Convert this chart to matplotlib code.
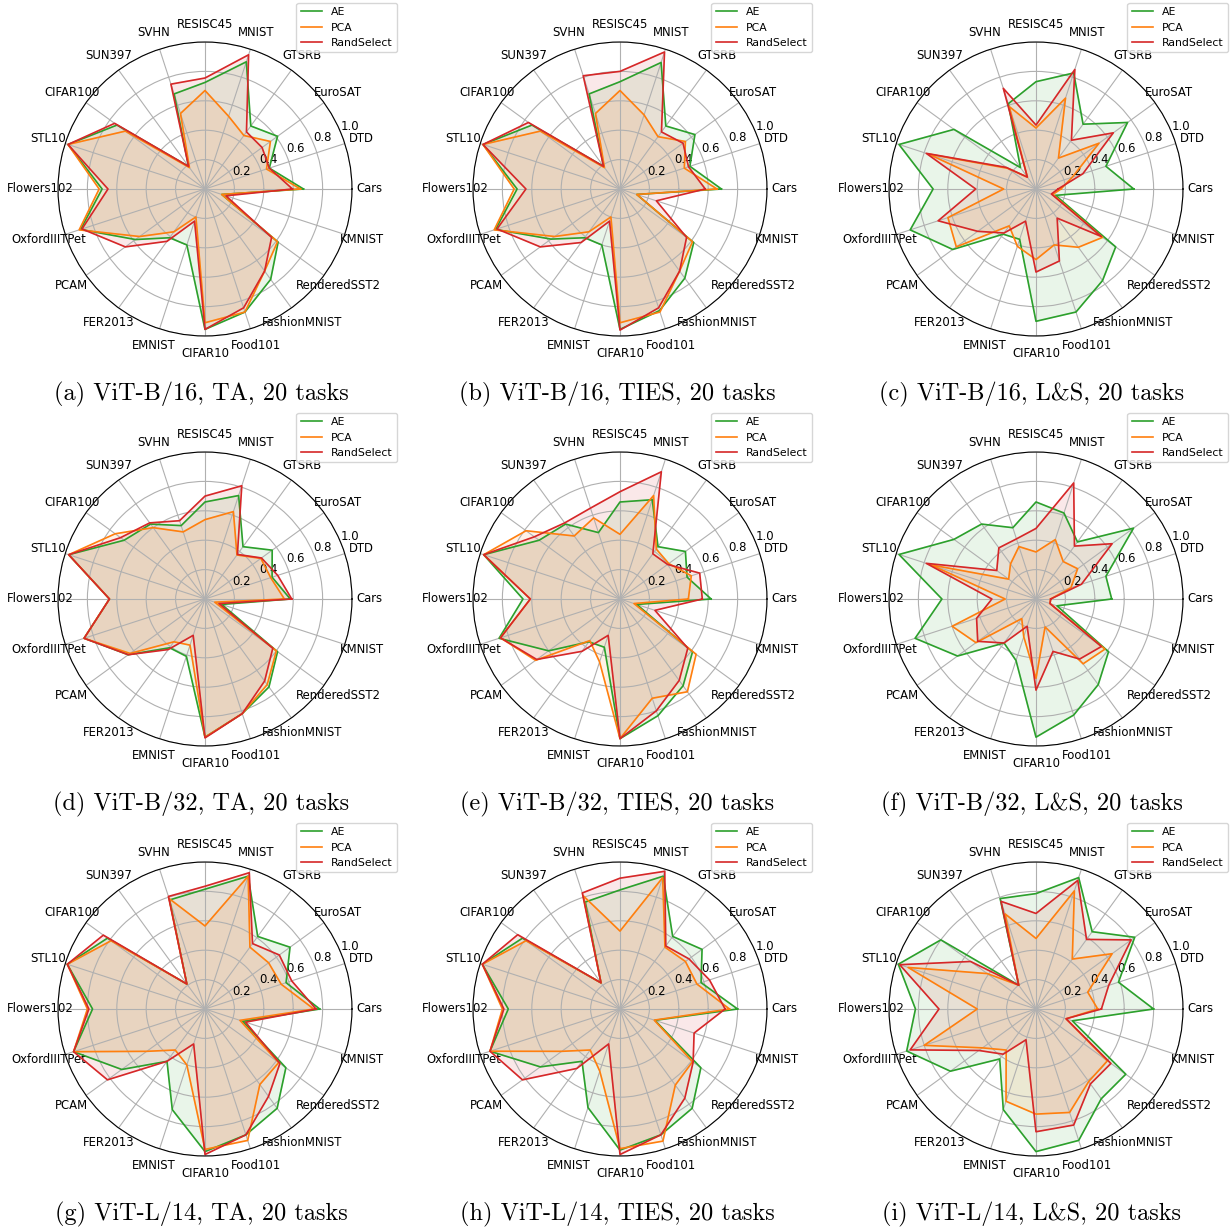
import numpy as np
import matplotlib
matplotlib.use("Agg")
import matplotlib.pyplot as plt

# Task order around each radar (counter-clockwise from the right)
tasks = ["Cars", "DTD", "EuroSAT", "GTSRB", "MNIST", "RESISC45", "SVHN", "SUN397",
         "CIFAR100", "STL10", "Flowers102", "OxfordIIITPet", "PCAM", "FER2013",
         "EMNIST", "CIFAR10", "Food101", "FashionMNIST", "RenderedSST2", "KMNIST"]

methods = ["AE", "PCA", "RandSelect"]
method_colors = ["#2ca02c", "#ff7f0e", "#d62728"]

r_ticks = [0.2, 0.4, 0.6, 0.8, 1.0]
r_tick_labels = ["0.2", "0.4", "0.6", "0.8", "1.0"]

# Normalized accuracy per task
# ViT-B/16
b16_ta_ae = [0.67, 0.46, 0.61, 0.53, 0.91, 0.725, 0.68, 0.19, 0.74, 0.98, 0.70, 0.89, 0.585, 0.41, 0.40, 0.955, 0.88, 0.76, 0.615, 0.12]
b16_ta_pca = [0.65, 0.44, 0.55, 0.45, 0.52, 0.67, 0.54, 0.18, 0.67, 0.98, 0.72, 0.90, 0.55, 0.36, 0.20, 0.91, 0.88, 0.69, 0.61, 0.12]
b16_ta_rand = [0.595, 0.46, 0.48, 0.48, 0.96, 0.755, 0.75, 0.19, 0.76, 0.98, 0.66, 0.88, 0.67, 0.44, 0.23, 0.955, 0.85, 0.69, 0.56, 0.15]

b16_ties_ae = [0.69, 0.50, 0.63, 0.53, 0.905, 0.73, 0.68, 0.19, 0.74, 0.98, 0.70, 0.89, 0.58, 0.41, 0.40, 0.955, 0.87, 0.75, 0.62, 0.12]
b16_ties_pca = [0.66, 0.46, 0.55, 0.44, 0.53, 0.67, 0.54, 0.18, 0.67, 0.98, 0.72, 0.90, 0.55, 0.36, 0.20, 0.91, 0.88, 0.69, 0.61, 0.12]
b16_ties_rand = [0.58, 0.49, 0.53, 0.48, 0.98, 0.80, 0.81, 0.19, 0.77, 0.98, 0.64, 0.88, 0.67, 0.45, 0.23, 0.96, 0.85, 0.69, 0.56, 0.26]

b16_ls_ae = [0.665, 0.50, 0.77, 0.545, 0.83, 0.73, 0.61, 0.18, 0.69, 0.98, 0.70, 0.90, 0.70, 0.38, 0.36, 0.90, 0.88, 0.77, 0.67, 0.14]
b16_ls_pca = [0.17, 0.26, 0.53, 0.26, 0.65, 0.415, 0.59, 0.10, 0.24, 0.77, 0.22, 0.63, 0.67, 0.31, 0.41, 0.48, 0.40, 0.49, 0.56, 0.12]
b16_ls_rand = [0.15, 0.335, 0.65, 0.41, 0.855, 0.435, 0.72, 0.10, 0.25, 0.785, 0.41, 0.70, 0.49, 0.37, 0.23, 0.565, 0.515, 0.245, 0.55, 0.11]

# ViT-B/32
b32_ta_ae = [0.58, 0.48, 0.565, 0.44, 0.74, 0.66, 0.525, 0.63, 0.68, 0.975, 0.65, 0.865, 0.645, 0.41, 0.41, 0.94, 0.82, 0.74, 0.61, 0.12]
b32_ta_pca = [0.54, 0.47, 0.47, 0.37, 0.625, 0.54, 0.48, 0.60, 0.755, 0.975, 0.65, 0.865, 0.63, 0.36, 0.33, 0.94, 0.82, 0.72, 0.60, 0.07]
b32_ta_rand = [0.59, 0.52, 0.475, 0.375, 0.81, 0.70, 0.56, 0.64, 0.71, 0.975, 0.65, 0.865, 0.645, 0.425, 0.26, 0.945, 0.82, 0.69, 0.57, 0.10]

b32_ties_ae = [0.62, 0.48, 0.55, 0.44, 0.71, 0.66, 0.475, 0.63, 0.68, 0.975, 0.66, 0.865, 0.60, 0.36, 0.345, 0.95, 0.835, 0.73, 0.61, 0.12]
b32_ties_pca = [0.465, 0.51, 0.41, 0.42, 0.74, 0.44, 0.58, 0.53, 0.79, 0.975, 0.61, 0.855, 0.71, 0.35, 0.45, 0.95, 0.71, 0.78, 0.64, 0.10]
b32_ties_rand = [0.56, 0.57, 0.40, 0.38, 0.91, 0.73, 0.65, 0.64, 0.72, 0.975, 0.61, 0.855, 0.70, 0.44, 0.26, 0.95, 0.80, 0.685, 0.57, 0.25]

b32_ls_ae = [0.515, 0.50, 0.82, 0.48, 0.615, 0.66, 0.51, 0.63, 0.69, 0.98, 0.64, 0.865, 0.66, 0.37, 0.44, 0.94, 0.83, 0.72, 0.61, 0.15]
b32_ls_pca = [0.10, 0.25, 0.35, 0.315, 0.425, 0.32, 0.375, 0.295, 0.23, 0.75, 0.21, 0.60, 0.505, 0.165, 0.27, 0.54, 0.20, 0.545, 0.58, 0.10]
b32_ls_rand = [0.10, 0.325, 0.64, 0.445, 0.83, 0.48, 0.43, 0.43, 0.33, 0.785, 0.30, 0.425, 0.49, 0.37, 0.195, 0.62, 0.375, 0.505, 0.55, 0.10]

# ViT-L/14
l14_ta_ae = [0.78, 0.58, 0.715, 0.61, 0.95, 0.815, 0.78, 0.21, 0.82, 0.985, 0.765, 0.94, 0.70, 0.44, 0.72, 0.97, 0.90, 0.835, 0.68, 0.27]
l14_ta_pca = [0.74, 0.545, 0.535, 0.52, 0.95, 0.565, 0.79, 0.21, 0.79, 0.985, 0.80, 0.94, 0.49, 0.345, 0.40, 0.955, 0.94, 0.635, 0.62, 0.25]
l14_ta_rand = [0.755, 0.62, 0.625, 0.55, 0.975, 0.835, 0.805, 0.21, 0.855, 0.985, 0.79, 0.94, 0.82, 0.44, 0.25, 0.99, 0.90, 0.735, 0.63, 0.29]

l14_ties_ae = [0.80, 0.58, 0.69, 0.61, 0.95, 0.81, 0.765, 0.22, 0.82, 0.985, 0.76, 0.93, 0.67, 0.44, 0.705, 0.96, 0.90, 0.835, 0.68, 0.25]
l14_ties_pca = [0.745, 0.55, 0.55, 0.52, 0.94, 0.53, 0.81, 0.22, 0.79, 0.985, 0.80, 0.93, 0.49, 0.345, 0.445, 0.95, 0.945, 0.64, 0.61, 0.245]
l14_ties_rand = [0.715, 0.64, 0.58, 0.53, 0.985, 0.89, 0.83, 0.22, 0.86, 0.985, 0.79, 0.93, 0.82, 0.50, 0.25, 0.99, 0.90, 0.75, 0.615, 0.53]

l14_ls_ae = [0.80, 0.59, 0.83, 0.65, 0.94, 0.785, 0.79, 0.20, 0.80, 0.985, 0.82, 0.925, 0.72, 0.42, 0.72, 0.97, 0.94, 0.755, 0.755, 0.26]
l14_ls_pca = [0.42, 0.37, 0.64, 0.42, 0.845, 0.48, 0.68, 0.20, 0.41, 0.915, 0.40, 0.80, 0.45, 0.345, 0.66, 0.715, 0.74, 0.61, 0.60, 0.215]
l14_ls_rand = [0.445, 0.52, 0.80, 0.585, 0.92, 0.65, 0.77, 0.20, 0.55, 0.975, 0.66, 0.90, 0.48, 0.38, 0.22, 0.835, 0.83, 0.63, 0.63, 0.215]

captions = [
    "(a) ViT-B/16, TA, 20 tasks", "(b) ViT-B/16, TIES, 20 tasks", "(c) ViT-B/16, L&S, 20 tasks",
    "(d) ViT-B/32, TA, 20 tasks", "(e) ViT-B/32, TIES, 20 tasks", "(f) ViT-B/32, L&S, 20 tasks",
    "(g) ViT-L/14, TA, 20 tasks", "(h) ViT-L/14, TIES, 20 tasks", "(i) ViT-L/14, L&S, 20 tasks",
]
panel_series = [
    (b16_ta_ae, b16_ta_pca, b16_ta_rand),
    (b16_ties_ae, b16_ties_pca, b16_ties_rand),
    (b16_ls_ae, b16_ls_pca, b16_ls_rand),
    (b32_ta_ae, b32_ta_pca, b32_ta_rand),
    (b32_ties_ae, b32_ties_pca, b32_ties_rand),
    (b32_ls_ae, b32_ls_pca, b32_ls_rand),
    (l14_ta_ae, l14_ta_pca, l14_ta_rand),
    (l14_ties_ae, l14_ties_pca, l14_ties_rand),
    (l14_ls_ae, l14_ls_pca, l14_ls_rand),
]

W, H = 1231, 1230
fig = plt.figure(figsize=(W / 100, H / 100), dpi=100)

col_cx = [205, 620, 1036]
row_cy = [189, 599, 1009]
cap_x = [201, 617, 1032]
cap_y = [394, 804, 1214]
R = 147

angles = np.linspace(0, 2 * np.pi, len(tasks), endpoint=False)
closed_angles = np.append(angles, angles[0])

for i, (caption, series) in enumerate(zip(captions, panel_series)):
    row, col = divmod(i, 3)
    cx, cy = col_cx[col], row_cy[row]
    ax = fig.add_axes([(cx - R) / W, (H - cy - R) / H, 2 * R / W, 2 * R / H],
                      projection="polar")
    for vals, name, color in zip(series, methods, method_colors):
        v = np.append(vals, vals[0])
        ax.plot(closed_angles, v, color=color, lw=1.2, label=name)
        ax.fill(closed_angles, v, color=color, alpha=0.1)
    ax.set_ylim(0, 1)
    ax.set_xticks(angles)
    ax.set_xticklabels(tasks, fontsize=8.4)
    ax.tick_params(axis="x", pad=2.2)
    ax.set_yticks(r_ticks)
    ax.set_yticklabels(r_tick_labels, fontsize=8.4)
    ax.grid(True, color="#b0b0b0", lw=0.8)
    ax.legend(loc="upper right", bbox_to_anchor=(1.153, 1.133), fontsize=7.8,
              borderaxespad=0)
    fig.text(cap_x[col] / W, 1 - cap_y[row] / H, caption, ha="center", va="center",
             fontsize=17.5, family="cmr10")

fig.savefig("out.png", dpi=100)
